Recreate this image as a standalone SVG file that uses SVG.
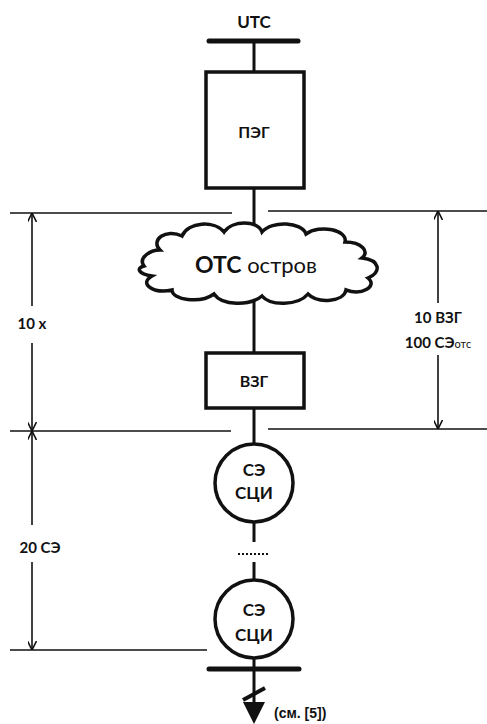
<svg xmlns="http://www.w3.org/2000/svg" width="487" height="724" viewBox="0 0 487 724">
<style>
.lbl{font-family:Lato,"Open Sans","Liberation Sans",sans-serif;font-weight:bold;fill:#111;text-anchor:middle}
.ln{stroke:#111;stroke-width:3;fill:none}
.box{stroke:#111;stroke-width:3.5;fill:#fff}
.dim{stroke:#111;stroke-width:1.6;fill:none}
.bus{stroke:#111;stroke-width:5;stroke-linecap:round}
</style>
<defs>
<marker id="ah" viewBox="0 0 10 10" refX="10" refY="5" markerWidth="9" markerHeight="9" orient="auto" markerUnits="userSpaceOnUse">
<path d="M0,0 L10,5 L0,10" fill="none" stroke="#111" stroke-width="1.8"/>
</marker>
</defs>
<rect width="487" height="724" fill="#fff"/>
<g id="connectors">
<line class="ln" x1="254" y1="40" x2="254" y2="72"/>
<line class="ln" x1="254" y1="188" x2="254" y2="228"/>
<line class="ln" x1="254" y1="300" x2="254" y2="353"/>
<line class="ln" x1="254" y1="408" x2="254" y2="444"/>
<line class="ln" x1="254" y1="522" x2="254" y2="542"/>
<line class="ln" x1="254" y1="562" x2="254" y2="580"/>
<line class="ln" x1="254" y1="658" x2="254" y2="704"/>
<line class="dim" x1="10" y1="213" x2="232" y2="213"/>
<line class="dim" x1="268" y1="211" x2="487" y2="211"/>
<line class="dim" x1="10" y1="431" x2="231" y2="431"/>
<line class="dim" x1="268" y1="429" x2="487" y2="429"/>
<line class="dim" x1="10" y1="650" x2="207" y2="650"/>
<line class="dim" x1="32" y1="306" x2="32" y2="213" marker-end="url(#ah)"/>
<line class="dim" x1="32" y1="343" x2="32" y2="431" marker-end="url(#ah)"/>
<line class="dim" x1="32" y1="525" x2="32" y2="431" marker-end="url(#ah)"/>
<line class="dim" x1="32" y1="562" x2="32" y2="650" marker-end="url(#ah)"/>
<line class="dim" x1="438" y1="303" x2="438" y2="211" marker-end="url(#ah)"/>
<line class="dim" x1="438" y1="355" x2="438" y2="429" marker-end="url(#ah)"/>
</g>
<g id="utc">
<line class="bus" x1="209" y1="41" x2="298" y2="41"/>
<text class="lbl" x="254" y="28" font-size="17">UTC</text>
</g>
<g id="peg">
<rect class="box" x="206" y="72" width="98" height="116"/>
<text class="lbl" x="254" y="138" font-size="16">ПЭГ</text>
</g>
<g id="cloud">
<path d="M144 266 C138 258,150 250,160 250 C150 240,166 228,182 236 C188 222,214 220,224 232 C232 220,258 220,262 232 C272 220,302 222,306 234 C320 224,348 230,345 242 C362 242,370 252,362 258 C380 260,382 272,368 278 C378 286,362 296,346 290 C344 302,318 304,308 294 C298 306,270 306,262 296 C250 306,222 306,214 294 C200 304,172 300,172 290 C154 294,138 284,152 276 C138 274,136 268,144 266 Z" fill="#fff" stroke="#111" stroke-width="3.5"/>
<text class="lbl" x="256" y="273" font-size="23"><tspan font-weight="bold">ОТС</tspan><tspan font-weight="normal" font-size="22"> остров</tspan></text>
</g>
<g id="vzg">
<rect class="box" x="206" y="353" width="98" height="55"/>
<text class="lbl" x="254" y="387" font-size="16">ВЗГ</text>
</g>
<g id="se1">
<circle cx="254" cy="483" r="39" fill="#fff" stroke="#111" stroke-width="3.5"/>
<text class="lbl" x="254" y="476" font-size="17">СЭ</text>
<text class="lbl" x="254" y="499" font-size="17">СЦИ</text>
</g>
<g id="dots">
<line x1="238" y1="554" x2="269" y2="554" stroke="#111" stroke-width="2" stroke-dasharray="2,2"/>
</g>
<g id="se2">
<circle cx="254" cy="619" r="39" fill="#fff" stroke="#111" stroke-width="3.5"/>
<text class="lbl" x="254" y="616" font-size="17">СЭ</text>
<text class="lbl" x="254" y="641" font-size="17">СЦИ</text>
</g>
<g id="bottom">
<line class="bus" x1="209" y1="669" x2="299" y2="669"/>
<line x1="243" y1="700" x2="265" y2="688" stroke="#111" stroke-width="4"/>
<path d="M243 702 L265 702 L254 724 Z" fill="#111"/>
<text x="274" y="718" font-family="'Liberation Sans',Arial,sans-serif" font-weight="bold" font-size="14" fill="#111">(см. [5])</text>
</g>
<g id="labels">
<text class="lbl" x="32" y="329" font-size="15">10 x</text>
<text class="lbl" x="40" y="553" font-size="15">20 СЭ</text>
<text class="lbl" x="438" y="323" font-size="15">10 ВЗГ</text>
<text class="lbl" x="438" y="348" font-size="15">100 СЭ<tspan font-size="11" font-weight="normal">отс</tspan></text>
</g>
</svg>
